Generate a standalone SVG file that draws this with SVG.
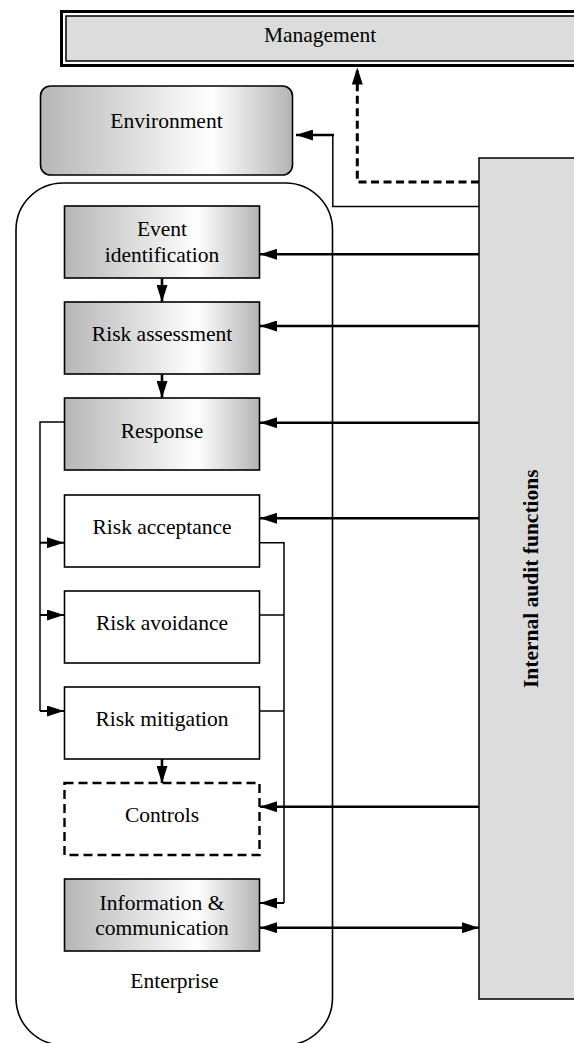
<svg xmlns="http://www.w3.org/2000/svg" width="574" height="1043" viewBox="0 0 574 1043">
<style>
  text { font-family: "Liberation Serif", "Times New Roman", serif; font-size: 21.5px; fill: #000; text-anchor: middle; }
  .bold { font-weight: bold; }
  .box { stroke: #000; stroke-width: 1.6; }
  .grad { fill: url(#shade); }
  .plain { fill: #fff; }
  .dash { fill: #fff; stroke-dasharray: 9 5; stroke-width: 2.4; }
  .thick { fill: none; stroke: #000; stroke-width: 2.6; }
  .mid { fill: none; stroke: #000; stroke-width: 2; }
  .thin { fill: none; stroke: #000; stroke-width: 1.5; }
</style>
<defs>
  <linearGradient id="shade" x1="0" y1="0" x2="1" y2="0">
    <stop offset="0" stop-color="#b6b6b6"/>
    <stop offset="0.68" stop-color="#ffffff"/>
    <stop offset="1" stop-color="#b4b4b4"/>
  </linearGradient>
  <marker id="ah" markerUnits="userSpaceOnUse" markerWidth="17" markerHeight="11" refX="17" refY="5.5" orient="auto-start-reverse" viewBox="0 0 17 11">
    <path d="M0,0 L17,5.5 L0,11 z" fill="#000"/>
  </marker>
</defs>

<g id="management">
  <rect x="61.5" y="11.5" width="520" height="54" fill="#fff" stroke="#000" stroke-width="3"/>
  <rect x="66" y="16" width="515" height="45" fill="#dcdcdc" stroke="#000" stroke-width="1.5"/>
  <text x="320" y="41.5">Management</text>
</g>

<g id="environment">
  <rect x="40.5" y="86" width="252" height="89" rx="10" class="box grad"/>
  <text x="166.5" y="128.3">Environment</text>
</g>

<g id="enterprise">
  <rect x="16" y="183" width="316.5" height="862" rx="47" fill="none" stroke="#000" stroke-width="1.6"/>
  <text x="174.5" y="988">Enterprise</text>
</g>

<g id="internal-audit">
  <rect x="479" y="158" width="100" height="841" fill="#dcdcdc" stroke="#000" stroke-width="1.5"/>
  <text class="bold" transform="translate(537.5 578.7) rotate(-90)">Internal audit functions</text>
</g>

<g id="event-identification">
  <rect x="64.5" y="206" width="195" height="72" class="box grad"/>
  <text x="162" y="236">Event</text>
  <text x="162" y="261.7">identification</text>
</g>

<g id="risk-assessment">
  <rect x="64.5" y="302" width="195" height="72" class="box grad"/>
  <text x="162" y="341">Risk assessment</text>
</g>

<g id="response">
  <rect x="64.5" y="398" width="195" height="72" class="box grad"/>
  <text x="162" y="438">Response</text>
</g>

<g id="risk-acceptance">
  <rect x="64.5" y="495" width="195" height="72" class="box plain"/>
  <text x="162" y="534">Risk acceptance</text>
</g>

<g id="risk-avoidance">
  <rect x="64.5" y="591" width="195" height="72" class="box plain"/>
  <text x="162" y="630">Risk avoidance</text>
</g>

<g id="risk-mitigation">
  <rect x="64.5" y="687" width="195" height="72" class="box plain"/>
  <text x="162" y="726">Risk mitigation</text>
</g>

<g id="controls">
  <rect x="64.5" y="783" width="195" height="72" class="box dash"/>
  <text x="162" y="821.7">Controls</text>
</g>

<g id="information-communication">
  <rect x="64.5" y="879" width="195" height="72" class="box grad"/>
  <text x="162" y="910">Information &amp;</text>
  <text x="162" y="935">communication</text>
</g>

<g id="connectors">
  <!-- audit to management (dashed) -->
  <path d="M479,182 H357.3 V67.5" fill="none" stroke="#000" stroke-width="3" stroke-dasharray="8 4.5" marker-end="url(#ah)"/>
  <!-- audit to environment -->
  <path d="M479,206.5 H332.8 V135" class="thin"/>
  <path d="M334,135 H296" class="thick" marker-end="url(#ah)"/>
  <!-- vertical flow arrows -->
  <path d="M162,278 V302" class="thick" marker-end="url(#ah)"/>
  <path d="M162,374 V398" class="thick" marker-end="url(#ah)"/>
  <path d="M162,759 V783" class="thick" marker-end="url(#ah)"/>
  <!-- audit to boxes -->
  <path d="M479,254.3 H260" class="thick" marker-end="url(#ah)"/>
  <path d="M479,326 H260" class="thick" marker-end="url(#ah)"/>
  <path d="M479,422.7 H260" class="thick" marker-end="url(#ah)"/>
  <path d="M479,518.3 H260" class="thick" marker-end="url(#ah)"/>
  <path d="M479,806.7 H260" class="thick" marker-end="url(#ah)"/>
  <path d="M260,927.7 H479" class="thick" marker-start="url(#ah)" marker-end="url(#ah)"/>
  <!-- response branches -->
  <path d="M64.5,422 H40 V711" class="thin"/>
  <path d="M40,542.7 H64" class="mid" marker-end="url(#ah)"/>
  <path d="M40,615 H64" class="mid" marker-end="url(#ah)"/>
  <path d="M40,711 H64" class="mid" marker-end="url(#ah)"/>
  <!-- outcomes to information -->
  <path d="M259.5,542.7 H284 V903" class="thin"/>
  <path d="M259.5,615 H284" class="thin"/>
  <path d="M259.5,711 H284" class="thin"/>
  <path d="M284,903 H260" class="mid" marker-end="url(#ah)"/>
</g>
</svg>
